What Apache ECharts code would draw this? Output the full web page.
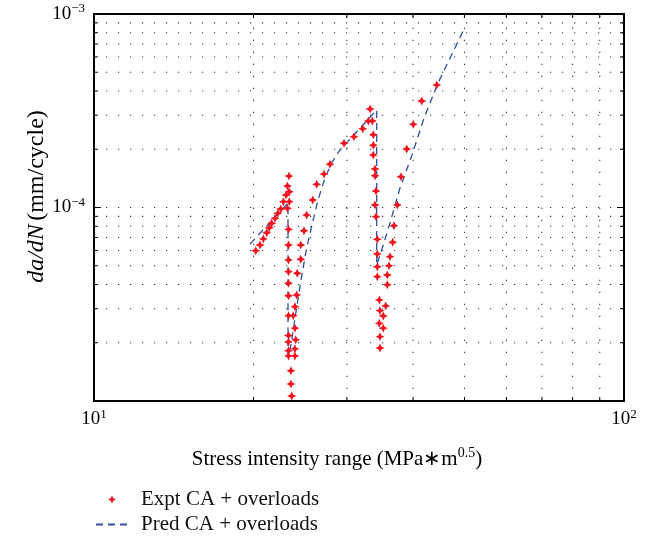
<!DOCTYPE html>
<html><head><meta charset="utf-8">
<script src="https://cdn.jsdelivr.net/npm/echarts@6/dist/echarts.min.js"></script>
<style>html,body{margin:0;padding:0;background:#fff}#c{width:650px;height:540px}</style>
</head><body><div id="c"></div>
<script>
// Experimental data: stress intensity range (MPa*m^0.5) vs da/dN (mm/cycle)
const exptX = [20.19,20.57,20.87,21.18,21.42,21.64,21.96,22.22,22.51,22.77,23.04,23.17,23.33,23.36,23.36,23.17,
  23.28,23.28,23.28,23.28,23.28,23.28,23.28,23.28,23.28,23.28,23.28,
  24.12,23.94,23.77,23.94,24.02,23.94,23.94,23.53,23.53,23.61,
  24.18,24.55,24.55,24.90,25.19,25.86,26.31,27.16,27.88,
  29.63,30.94,32.14,32.93,33.51,33.18,
  33.65,33.65,33.65,33.90,33.90,34.05,33.90,34.05,34.24,34.24,34.24,34.24,34.54,34.64,34.54,34.64,34.64,
  35.14,35.14,35.51,35.76,35.76,36.02,36.18,36.61,36.81,37.35,37.95,38.90,40.03,41.52,44.33];
const exptY = [5.98e-5,6.40e-5,6.88e-5,7.41e-5,7.86e-5,8.29e-5,8.79e-5,9.33e-5,9.82e-5,1.072e-4,1.161e-4,1.291e-4,1.453e-4,1.207e-4,1.072e-4,9.91e-5,
  7.71e-5,6.40e-5,5.36e-5,4.66e-5,4.06e-5,3.50e-5,2.76e-5,2.18e-5,2.02e-5,1.82e-5,1.71e-5,
  3.53e-5,3.07e-5,2.76e-5,2.38e-5,2.07e-5,1.86e-5,1.71e-5,1.434e-5,1.224e-5,1.061e-5,
  4.57e-5,5.40e-5,6.40e-5,7.58e-5,9.15e-5,1.093e-4,1.317e-4,1.488e-4,1.672e-4,
  2.147e-4,2.322e-4,2.554e-4,2.799e-4,2.799e-4,3.23e-4,
  2.378e-4,2.096e-4,1.868e-4,1.581e-4,1.459e-4,1.217e-4,1.030e-4,8.97e-5,6.85e-5,5.75e-5,4.94e-5,4.39e-5,3.33e-5,2.93e-5,2.52e-5,2.15e-5,1.88e-5,
  2.75e-5,2.38e-5,3.10e-5,3.99e-5,4.48e-5,5.00e-5,5.57e-5,6.61e-5,8.05e-5,1.030e-4,1.441e-4,2.006e-4,2.69e-4,3.55e-4,4.297e-4];
// Predicted curve
const predX = [19.70,23.23,23.23,23.53,24.05,24.58,25.19,25.78,26.46,27.28,28.13,29.12,34.15,34.15,34.90,36.18,37.79,39.81,41.95,44.58,50.12];
const predY = [6.48e-5,1.055e-4,1.689e-5,1.947e-5,2.884e-5,4.22e-5,6.18e-5,8.12e-5,1.093e-4,1.421e-4,1.718e-4,1.983e-4,3.19e-4,5.05e-5,6.03e-5,8.32e-5,1.261e-4,1.868e-4,2.90e-4,4.40e-4,8.57e-4];
// Axis ranges and tick values
const xRange = [10, 100];
const yRange = [1e-5, 1e-3];
const xGridTicks = [20,30,40,50,60,70,80,90];
const yGridTicks = [2e-5,3e-5,4e-5,5e-5,6e-5,7e-5,8e-5,9e-5,1e-4,2e-4,3e-4,4e-4,5e-4,6e-4,7e-4,8e-4,9e-4];
const yMajorTicks = [1e-4];
const seriesNames = ['Expt CA + overloads', 'Pred CA + overloads'];

const FONT = 'Liberation Serif';
const chart = echarts.init(document.getElementById('c'), null, {renderer: 'canvas'});

const tickData = xGridTicks.map(v => [v, yRange[0], 0]).concat(yGridTicks.map(v => [xRange[0], v, 1]));

function supLabel(v) {
  const e = Math.round(Math.log10(v));
  return '{b|10}{s|' + String(e).replace('-', '\u2212') + '}';
}
const labelRich = {
  b: {fontFamily: FONT, fontSize: 19, lineHeight: 23, color: '#000'},
  s: {fontFamily: FONT, fontSize: 13, lineHeight: 13, verticalAlign: 'top', color: '#000'}
};

const option = {
  animation: false,
  backgroundColor: '#fff',
  grid: {left: 94, right: 26, top: 14, bottom: 139, show: true, borderColor: '#000', borderWidth: 2, backgroundColor: 'transparent'},
  xAxis: {
    type: 'log', logBase: 10, min: xRange[0], max: xRange[1],
    axisLine: {show: false}, axisTick: {show: false}, splitLine: {show: false},
    axisLabel: {formatter: supLabel, margin: 7, rich: labelRich, color: '#000'},
    name: '{n|Stress intensity range (MPa\u2217m}{s|0.5}{n|)}',
    nameLocation: 'middle', nameGap: 45, nameMoveOverlap: false,
    nameTextStyle: {padding: [0, 44, 0, 0], rich: {
      n: {fontFamily: FONT, fontSize: 21, lineHeight: 26, color: '#000'},
      s: {fontFamily: FONT, fontSize: 14, lineHeight: 14, verticalAlign: 'top', color: '#000'}
    }}
  },
  yAxis: {
    type: 'log', logBase: 10, min: yRange[0], max: yRange[1],
    axisLine: {show: false}, axisTick: {show: false}, splitLine: {show: false},
    axisLabel: {formatter: supLabel, margin: 9, rich: labelRich, color: '#000', showMinLabel: false},
    name: '{i|da/dN} {n|(mm/cycle)}',
    nameLocation: 'middle', nameGap: 45, nameMoveOverlap: false,
    nameTextStyle: {padding: [0, 0, 0, 22], rich: {
      i: {fontFamily: FONT, fontSize: 24, fontStyle: 'italic', color: '#000'},
      n: {fontFamily: FONT, fontSize: 24, color: '#000'}
    }}
  },
  legend: {
    orient: 'vertical', left: 90, top: 484, itemWidth: 32, itemHeight: 8, itemGap: 4,
    data: [{name: seriesNames[0]}, {name: seriesNames[1], itemStyle: {opacity: 0}}],
    textStyle: {fontFamily: FONT, fontSize: 21, color: '#111', padding: [0, 0, 0, 8]}
  },
  series: [
    {
      type: 'custom', silent: true, z: 1,
      data: tickData,
      renderItem: function (params, api) {
        const cs = params.coordSys;
        const kind = api.value(2);
        const kids = [];
        const dot = {stroke: '#333', lineWidth: 1.1, lineDash: [1.2, 10.8]};
        const tk = {stroke: '#000', lineWidth: 1};
        if (kind === 0) {
          const x = api.coord([api.value(0), yRange[0]])[0];
          const L = 4;
          kids.push({type: 'line', shape: {x1: x, y1: cs.y + cs.height, x2: x, y2: cs.y}, style: dot});
          kids.push({type: 'line', shape: {x1: x, y1: cs.y + cs.height, x2: x, y2: cs.y + cs.height - L}, style: tk});
          kids.push({type: 'line', shape: {x1: x, y1: cs.y, x2: x, y2: cs.y + L}, style: tk});
        } else {
          const v = api.value(1);
          const y = api.coord([xRange[0], v])[1];
          const L = yMajorTicks.indexOf(v) >= 0 ? 7 : 4;
          kids.push({type: 'line', shape: {x1: cs.x, y1: y, x2: cs.x + cs.width, y2: y}, style: dot});
          kids.push({type: 'line', shape: {x1: cs.x, y1: y, x2: cs.x + L, y2: y}, style: tk});
          kids.push({type: 'line', shape: {x1: cs.x + cs.width, y1: y, x2: cs.x + cs.width - L, y2: y}, style: tk});
        }
        return {type: 'group', children: kids};
      }
    },
    {
      name: seriesNames[1], type: 'line', z: 3,
      data: predX.map((x, i) => [x, predY[i]]),
      symbol: 'none', showSymbol: false,
      lineStyle: {color: '#2c4ea6', width: 1.3, type: [7, 5]},
      itemStyle: {color: '#2c4ea6'}
    },
    {
      name: seriesNames[0], type: 'scatter', z: 4,
      data: exptX.map((x, i) => [x, exptY[i]]),
      symbol: 'path://M0,-10 L3.2,-3.2 L10,0 L3.2,3.2 L0,10 L-3.2,3.2 L-10,0 L-3.2,-3.2 Z',
      symbolSize: 9,
      itemStyle: {color: '#f0141e', opacity: 1}
    }
  ]
};
chart.setOption(option);
</script></body></html>
